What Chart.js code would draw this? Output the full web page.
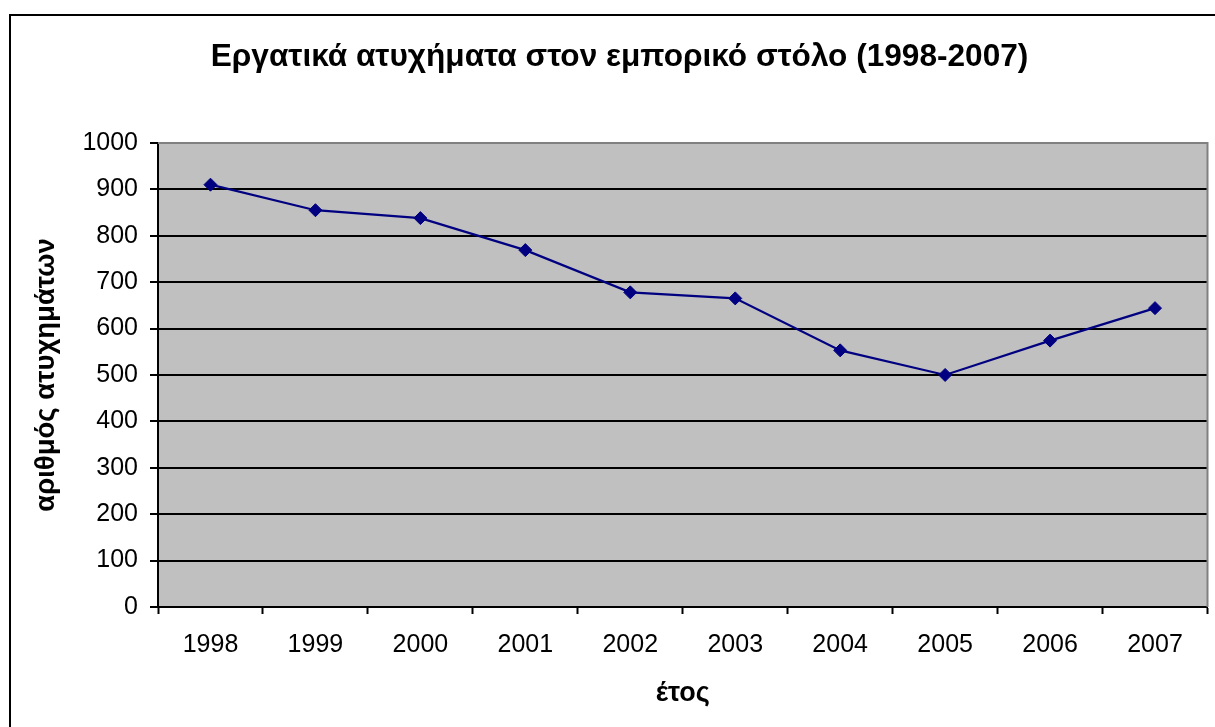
<!DOCTYPE html>
<html lang="el">
<head>
<meta charset="utf-8">
<title>Εργατικά ατυχήματα στον εμπορικό στόλο (1998-2007)</title>
<script src="https://cdn.jsdelivr.net/npm/chart.js@4"></script>
<style>
  html, body { margin: 0; padding: 0; background: #ffffff; }
  #wrap { width: 1215px; height: 727px; position: relative; }
</style>
</head>
<body>
<div id="wrap"><canvas id="chart" width="1215" height="727"></canvas></div>
<script>
// Years on the horizontal axis
const years = ['1998', '1999', '2000', '2001', '2002', '2003', '2004', '2005', '2006', '2007'];
// Number of accidents per year
const accidents = [910, 855, 838, 769, 678, 665, 553, 500, 574, 644];
// Vertical axis range and step
const yMin = 0;
const yMax = 1000;
const yStep = 100;

const titleText = 'Εργατικά ατυχήματα στον εμπορικό στόλο (1998-2007)';
const xTitle = 'έτος';
const yTitle = 'αριθμός ατυχημάτων';

const FONT = '"Liberation Sans", Arial, sans-serif';

// Gray plot background, frame around the plot and the outer chart border
const framePlugin = {
  id: 'frame',
  beforeDraw(chart) {
    const { ctx, chartArea: a, width, height } = chart;
    ctx.save();
    ctx.fillStyle = '#ffffff';
    ctx.fillRect(0, 0, width, height);
    ctx.fillStyle = '#c0c0c0';
    ctx.fillRect(a.left, a.top, a.right - a.left, a.bottom - a.top);
    ctx.restore();
  },
  afterDraw(chart) {
    const { ctx, chartArea: a, width, height } = chart;
    ctx.save();
    ctx.strokeStyle = '#808080';
    ctx.lineWidth = 2;
    ctx.beginPath();
    ctx.moveTo(a.left, a.top);
    ctx.lineTo(a.right, a.top);
    ctx.lineTo(a.right, a.bottom);
    ctx.stroke();
    ctx.strokeStyle = '#000000';
    ctx.lineWidth = 2;
    ctx.strokeRect(10, 15, width + 20, height + 20);
    ctx.restore();
  }
};

new Chart(document.getElementById('chart'), {
  type: 'line',
  data: {
    labels: years,
    datasets: [{
      data: accidents,
      borderColor: '#000080',
      backgroundColor: '#000080',
      borderWidth: 2.2,
      pointStyle: 'rectRot',
      pointRadius: 6.5,
      pointBorderWidth: 1,
      pointBackgroundColor: '#000080',
      pointBorderColor: '#000080',
      tension: 0,
      clip: false
    }]
  },
  options: {
    responsive: false,
    animation: false,
    devicePixelRatio: 1,
    layout: { padding: { left: 30, right: 6, top: 0, bottom: 0 } },
    plugins: {
      legend: { display: false },
      tooltip: { enabled: false },
      title: {
        display: true,
        text: titleText,
        color: '#000000',
        font: { family: FONT, size: 31.6, weight: 'bold', lineHeight: 1.2 },
        padding: { top: 38, bottom: 67 }
      }
    },
    scales: {
      x: {
        offset: true,
        grid: {
          offset: true,
          drawOnChartArea: false,
          drawTicks: true,
          tickLength: 7,
          tickWidth: 2,
          tickColor: '#000000'
        },
        border: { color: '#000000', width: 2 },
        ticks: {
          color: '#000000',
          font: { family: FONT, size: 25 },
          padding: 16,
          maxRotation: 0,
          autoSkip: false
        },
        title: {
          display: true,
          text: xTitle,
          color: '#000000',
          font: { family: FONT, size: 27, weight: 'bold' },
          padding: { top: 10, bottom: 17 }
        },
        afterFit(scale) { scale.height = 120; }
      },
      y: {
        min: yMin,
        max: yMax,
        grid: {
          color: '#000000',
          lineWidth: 2,
          drawTicks: true,
          tickLength: 8,
          tickColor: '#000000'
        },
        border: { color: '#000000', width: 2 },
        ticks: {
          stepSize: yStep,
          color: '#000000',
          font: { family: FONT, size: 25 },
          padding: 12,
          callback: (v) => String(v)
        },
        title: {
          display: true,
          text: yTitle,
          color: '#000000',
          font: { family: FONT, size: 27.5, weight: 'bold' },
          padding: { top: 0, bottom: 20 }
        },
        afterFit(scale) { scale.width = 128; }
      }
    }
  },
  plugins: [framePlugin]
});
</script>
</body>
</html>
